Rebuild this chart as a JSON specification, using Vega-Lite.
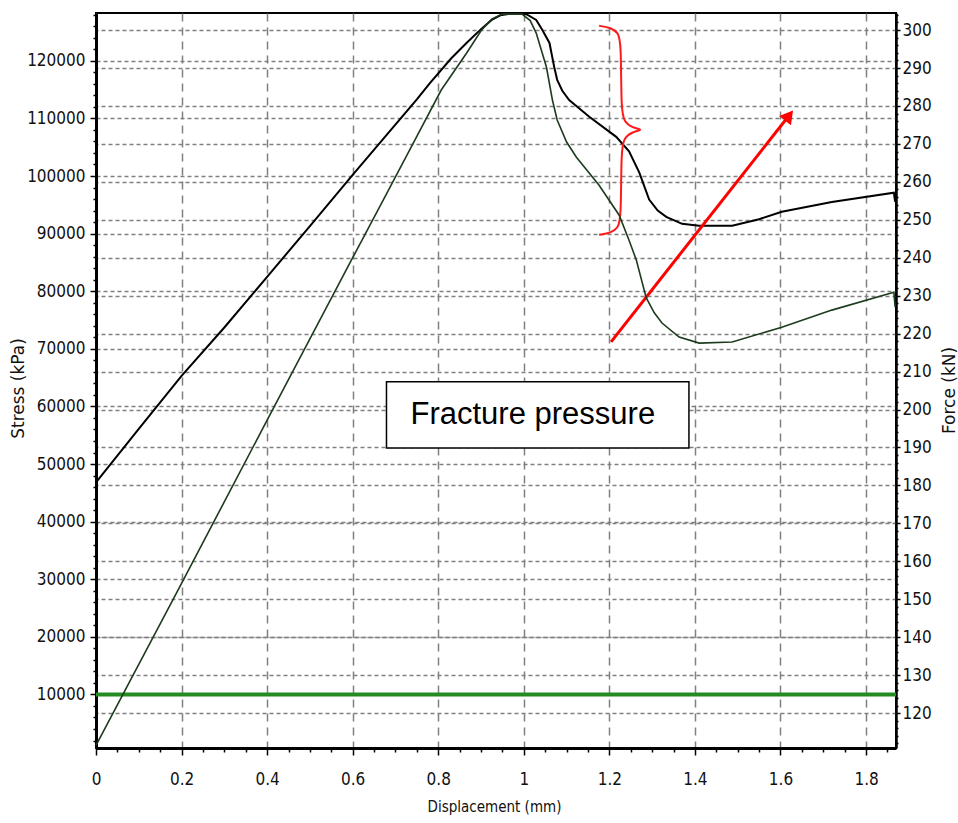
{
  "$schema": "https://vega.github.io/schema/vega-lite/v6.json",
  "width": 800,
  "height": 735,
  "autosize": {"type": "none"},
  "padding": {"left": 96, "top": 13, "right": 62, "bottom": 75},
  "background": "white",
  "config": {
    "view": {"stroke": "#000", "strokeWidth": 2},
    "axis": {
      "labelFont": "DejaVu Sans Condensed, Liberation Sans, sans-serif",
      "labelFontSize": 17,
      "labelColor": "#111",
      "titleFont": "DejaVu Sans",
      "titleFontSize": 17,
      "titleFontWeight": "normal",
      "titleColor": "#111",
      "domainColor": "#000",
      "tickColor": "#000",
      "tickWidth": 1.5,
      "gridColor": "#808080",
      "gridWidth": 1.5,
      "labelOverlap": false,
      "labelBound": false,
      "labelFlush": false
    }
  },
  "datasets": {
    "black": [
      {"d": 0, "stress": 46800}, {"d": 0.1, "stress": 56100}, {"d": 0.2, "stress": 65300}, {"d": 0.3, "stress": 73700},
      {"d": 0.4, "stress": 82500}, {"d": 0.5, "stress": 91300}, {"d": 0.6, "stress": 100200}, {"d": 0.67, "stress": 106300},
      {"d": 0.75, "stress": 113300}, {"d": 0.78, "stress": 116100}, {"d": 0.83, "stress": 120400}, {"d": 0.866, "stress": 123100},
      {"d": 0.9, "stress": 125500}, {"d": 0.925, "stress": 127100}, {"d": 0.945, "stress": 127900}, {"d": 0.97, "stress": 128200},
      {"d": 1.006, "stress": 128100}, {"d": 1.029, "stress": 127100},
      {"d": 1.043, "stress": 125400}, {"d": 1.06, "stress": 123100}, {"d": 1.071, "stress": 118950}, {"d": 1.078, "stress": 116700},
      {"d": 1.09, "stress": 114800}, {"d": 1.106, "stress": 113200}, {"d": 1.153, "stress": 110300}, {"d": 1.216, "stress": 106800}, {"d": 1.246, "stress": 104300},
      {"d": 1.27, "stress": 100600}, {"d": 1.293, "stress": 95900}, {"d": 1.313, "stress": 94000}, {"d": 1.333, "stress": 92900}, {"d": 1.37, "stress": 91700},
      {"d": 1.41, "stress": 91350}, {"d": 1.487, "stress": 91350}, {"d": 1.55, "stress": 92500}, {"d": 1.603, "stress": 93800},
      {"d": 1.72, "stress": 95500}, {"d": 1.865, "stress": 97100}, {"d": 1.868, "stress": 95500}
    ],
    "green": [
      {"d": 0, "force": 111.5}, {"d": 0.2, "force": 154.2}, {"d": 0.4, "force": 197.2}, {"d": 0.6, "force": 240.0},
      {"d": 0.68, "force": 257}, {"d": 0.749, "force": 271.8}, {"d": 0.807, "force": 284.2}, {"d": 0.866, "force": 293.9},
      {"d": 0.9, "force": 299.8}, {"d": 0.925, "force": 302.9}, {"d": 0.95, "force": 304.2}, {"d": 0.996, "force": 304.2}, {"d": 1.015, "force": 302.5},
      {"d": 1.029, "force": 299.2}, {"d": 1.053, "force": 290.2}, {"d": 1.067, "force": 281.5}, {"d": 1.078, "force": 276.3},
      {"d": 1.1, "force": 270.5}, {"d": 1.123, "force": 266.5}, {"d": 1.176, "force": 259.1}, {"d": 1.223, "force": 251.2}, {"d": 1.246, "force": 244.6},
      {"d": 1.263, "force": 239.4}, {"d": 1.286, "force": 229.5}, {"d": 1.305, "force": 225.5}, {"d": 1.323, "force": 222.8}, {"d": 1.363, "force": 219.1},
      {"d": 1.41, "force": 217.5}, {"d": 1.487, "force": 217.8}, {"d": 1.603, "force": 221.7}, {"d": 1.72, "force": 226.2},
      {"d": 1.865, "force": 230.9}, {"d": 1.868, "force": 227}
    ],
    "threshold": [{"d": 0, "stress": 10000}, {"d": 1.87, "stress": 10000}],
    "brace": [
      {"i": 1, "d": 1.176, "stress": 126080}, {"i": 2, "d": 1.204, "stress": 125733}, {"i": 3, "d": 1.2205, "stress": 124865},
      {"i": 4, "d": 1.2275, "stress": 123302}, {"i": 5, "d": 1.2275, "stress": 111495}, {"i": 6, "d": 1.2345, "stress": 109411},
      {"i": 7, "d": 1.2532, "stress": 108369}, {"i": 8, "d": 1.2812, "stress": 108022}, {"i": 9, "d": 1.2532, "stress": 107675},
      {"i": 10, "d": 1.2345, "stress": 106633}, {"i": 11, "d": 1.2275, "stress": 104550}, {"i": 12, "d": 1.2275, "stress": 92742},
      {"i": 13, "d": 1.2205, "stress": 91006}, {"i": 14, "d": 1.204, "stress": 90137}, {"i": 15, "d": 1.176, "stress": 89790}
    ],
    "arrow": [{"d": 1.204, "stress": 71210}, {"d": 1.62, "stress": 110500}],
    "arrowhead": [{"d": 1.62, "stress": 110500}],
    "box": [{"d": 0.679, "d2": 1.386, "stress": 52800, "stress2": 64270}],
    "boxlabel": [{"d": 1.021, "stress": 58535, "label": "Fracture pressure"}]
  },
  "encoding": {
    "x": {
      "field": "d", "type": "quantitative",
      "scale": {"domain": [0, 1.87], "nice": false, "zero": false},
      "axis": {
        "values": [0,0.05,0.1,0.15,0.2,0.25,0.3,0.35,0.4,0.45,0.5,0.55,0.6,0.65,0.7,0.75,0.8,0.85,0.9,0.95,1,1.05,1.1,1.15,1.2,1.25,1.3,1.35,1.4,1.45,1.5,1.55,1.6,1.65,1.7,1.75,1.8,1.85],
        "labelExpr": "abs(datum.value*5-round(datum.value*5))<1e-6 ? format(datum.value,'~g') : ''",
        "gridOpacity": {"condition": {"test": "abs(datum.value*5-round(datum.value*5))<1e-6", "value": 1}, "value": 0},
        "tickSize": {"condition": {"test": "abs(datum.value*5-round(datum.value*5))<1e-6", "value": 7}, "value": 4},
        "grid": true,
        "gridDash": [8, 6],
        "domainWidth": 3,
        "labelPadding": 16,
        "title": "Displacement (mm)",
        "titleFont": "DejaVu Sans Condensed, Liberation Sans, sans-serif",
        "titleFontSize": 15,
        "titleX": 398,
        "titleY": 58,
        "titleBaseline": "middle"
      }
    }
  },
  "layer": [
    {
      "encoding": {
        "y": {
          "field": "stress", "type": "quantitative",
          "scale": {"domain": [700, 128300], "nice": false, "zero": false},
          "axis": {
            "orient": "left",
            "values": [2000,4000,6000,8000,10000,12000,14000,16000,18000,20000,22000,24000,26000,28000,30000,32000,34000,36000,38000,40000,42000,44000,46000,48000,50000,52000,54000,56000,58000,60000,62000,64000,66000,68000,70000,72000,74000,76000,78000,80000,82000,84000,86000,88000,90000,92000,94000,96000,98000,100000,102000,104000,106000,108000,110000,112000,114000,116000,118000,120000,122000,124000,126000,128000],
            "format": "d",
            "labelExpr": "datum.value % 10000 === 0 ? datum.label : ''",
            "gridOpacity": {"condition": {"test": "datum.value % 10000 === 0", "value": 1}, "value": 0},
            "tickSize": {"condition": {"test": "datum.value % 10000 === 0", "value": 6}, "value": 3},
            "grid": true,
            "gridDash": [4, 3],
            "domainWidth": 3,
            "labelPadding": 5,
            "title": "Stress (kPa)",
            "titleAngle": -90,
            "titleX": -78,
            "titleY": 375,
            "titleAlign": "center",
            "titleBaseline": "middle"
          }
        }
      },
      "layer": [
        {
          "data": {"name": "black"},
          "mark": {"type": "line", "color": "#000", "strokeWidth": 2}
        },
        {
          "data": {"name": "threshold"},
          "mark": {"type": "line", "color": "#228b22", "strokeWidth": 4}
        },
        {
          "data": {"name": "brace"},
          "mark": {"type": "line", "color": "#ff1a1a", "strokeWidth": 2, "interpolate": "basis"},
          "encoding": {
            "order": {"field": "i", "type": "quantitative"}
          }
        },
        {
          "data": {"name": "arrow"},
          "mark": {"type": "line", "color": "#ff0000", "strokeWidth": 3}
        },
        {
          "data": {"name": "arrowhead"},
          "mark": {"type": "point", "shape": "triangle-up", "filled": true, "color": "#ff0000", "opacity": 1, "size": 220, "angle": 38}
        },
        {
          "data": {"name": "box"},
          "mark": {"type": "rect", "fill": "#fff", "stroke": "#000", "strokeWidth": 1.5},
          "encoding": {
            "x2": {"field": "d2"},
            "y2": {"field": "stress2"}
          }
        },
        {
          "data": {"name": "boxlabel"},
          "mark": {"type": "text", "font": "Liberation Sans", "fontSize": 31, "color": "#000", "align": "center", "baseline": "middle"},
          "encoding": {
            "text": {"field": "label"}
          }
        }
      ]
    },
    {
      "data": {"name": "green"},
      "mark": {"type": "line", "color": "#1d3b1d", "strokeWidth": 1.6},
      "encoding": {
        "y": {
          "field": "force", "type": "quantitative",
          "scale": {"domain": [110.8, 304.5], "nice": false, "zero": false},
          "axis": {
            "orient": "right",
            "values": [112,114,116,118,120,122,124,126,128,130,132,134,136,138,140,142,144,146,148,150,152,154,156,158,160,162,164,166,168,170,172,174,176,178,180,182,184,186,188,190,192,194,196,198,200,202,204,206,208,210,212,214,216,218,220,222,224,226,228,230,232,234,236,238,240,242,244,246,248,250,252,254,256,258,260,262,264,266,268,270,272,274,276,278,280,282,284,286,288,290,292,294,296,298,300,302,304],
            "format": "d",
            "labelExpr": "datum.value % 10 === 0 ? datum.label : ''",
            "gridOpacity": {"condition": {"test": "datum.value % 10 === 0", "value": 1}, "value": 0},
            "tickSize": {"condition": {"test": "datum.value % 10 === 0", "value": 4}, "value": 2},
            "grid": true,
            "gridDash": [4, 3],
            "domainWidth": 2.5,
            "labelPadding": 2,
            "title": "Force (kN)",
            "titleAngle": -90,
            "titleX": 53,
            "titleY": 377,
            "titleAlign": "center",
            "titleBaseline": "middle"
          }
        }
      }
    }
  ],
  "resolve": {"scale": {"y": "independent"}, "axis": {"y": "independent"}}
}
